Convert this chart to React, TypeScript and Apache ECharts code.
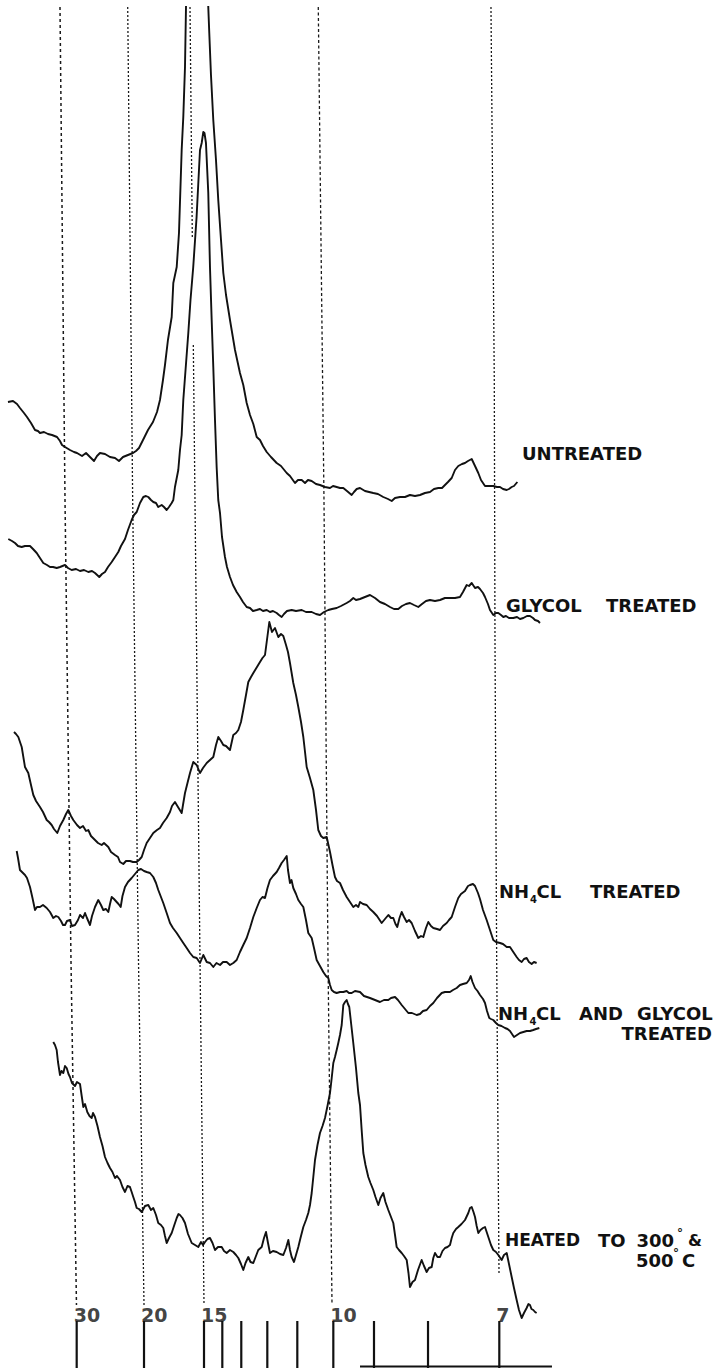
import React, { useEffect, useRef } from "react";
import * as echarts from "echarts";

// X-ray diffraction traces. x: 2θ in degrees, y: intensity (arbitrary units, each trace above its own baseline)
const untreated: number[][] = [
  [1.369, 98], [1.484, 99], [1.576, 96], [1.644, 92], [1.736, 87], [1.805, 83], [1.897, 77], [1.989, 70],
  [2.057, 69], [2.103, 67], [2.195, 68], [2.287, 66], [2.379, 65], [2.494, 63], [2.562, 59], [2.608, 55],
  [2.677, 53], [2.791, 50], [2.883, 48], [2.952, 47], [3.067, 44], [3.159, 47], [3.25, 43], [3.342, 39],
  [3.411, 44], [3.479, 47], [3.594, 46], [3.709, 43], [3.824, 42], [3.915, 39], [4.007, 43], [4.121, 45],
  [4.236, 47], [4.305, 49], [4.374, 52], [4.466, 60], [4.58, 70], [4.695, 78], [4.787, 88], [4.855, 100],
  [4.924, 120], [4.97, 135], [5.038, 160], [5.124, 183], [5.161, 217], [5.239, 233], [5.291, 267],
  [5.353, 350], [5.39, 383], [5.429, 433], [5.452, 493], [5.475, 560], [5.544, 650], [5.681, 760],
  [5.819, 650], [5.933, 560], [5.963, 493], [5.986, 467], [6.025, 425], [6.078, 380], [6.14, 340],
  [6.192, 300], [6.255, 260], [6.308, 227], [6.37, 205], [6.461, 180], [6.576, 150], [6.69, 127],
  [6.766, 115], [6.844, 97], [6.92, 85], [6.996, 76], [7.074, 63], [7.149, 60], [7.218, 54], [7.303, 48],
  [7.401, 43], [7.532, 37], [7.631, 34], [7.762, 27], [7.837, 24], [7.952, 17], [8.021, 20], [8.106, 20],
  [8.182, 17], [8.25, 20], [8.335, 19], [8.434, 16], [8.525, 15], [8.64, 13], [8.755, 12], [8.824, 14],
  [8.908, 13], [8.984, 12], [9.06, 12], [9.144, 9], [9.252, 5], [9.305, 8], [9.367, 11], [9.443, 12],
  [9.557, 9], [9.748, 7], [9.855, 6], [9.977, 3], [10.085, 1], [10.17, -1], [10.246, 2], [10.36, 3],
  [10.475, 3], [10.589, 5], [10.704, 4], [10.819, 5], [10.933, 7], [11.048, 8], [11.14, 11], [11.239, 12],
  [11.324, 12], [11.392, 15], [11.461, 18], [11.546, 22], [11.622, 30], [11.697, 34], [11.782, 36],
  [11.851, 37], [11.92, 39], [12.005, 41], [12.081, 34], [12.156, 27], [12.218, 20], [12.31, 14],
  [12.401, 14], [12.5, 14], [12.585, 13], [12.654, 13], [12.723, 11], [12.808, 10], [12.86, 11],
  [12.922, 13], [12.975, 14], [13.052, 18],
];

const glycolTreated: number[][] = [
  [1.376, 86], [1.461, 84], [1.53, 82], [1.599, 79], [1.683, 78], [1.759, 79], [1.874, 79], [1.943, 76],
  [2.028, 72], [2.103, 67], [2.179, 62], [2.264, 60], [2.333, 58], [2.402, 58], [2.487, 57], [2.562, 58],
  [2.677, 60], [2.745, 57], [2.83, 55], [2.929, 56], [3.021, 54], [3.113, 55], [3.211, 53], [3.296, 54],
  [3.365, 52], [3.463, 48], [3.525, 51], [3.594, 53], [3.663, 58], [3.748, 63], [3.824, 68], [3.899, 73],
  [3.961, 79], [4.053, 86], [4.121, 95], [4.206, 105], [4.259, 110], [4.321, 113], [4.397, 122],
  [4.473, 128], [4.534, 129], [4.587, 128], [4.649, 125], [4.702, 123], [4.764, 122], [4.816, 118],
  [4.894, 120], [4.947, 118], [5.008, 115], [5.062, 118], [5.124, 122], [5.161, 125], [5.199, 138],
  [5.275, 155], [5.314, 175], [5.353, 190], [5.39, 225], [5.505, 292], [5.555, 325], [5.618, 358],
  [5.695, 408], [5.773, 475], [5.812, 482], [5.849, 493], [5.876, 492], [5.91, 482], [5.963, 432],
  [6.002, 358], [6.041, 305], [6.078, 258], [6.117, 205], [6.155, 158], [6.192, 125], [6.232, 112],
  [6.278, 88], [6.346, 68], [6.392, 58], [6.461, 48], [6.53, 40], [6.614, 33], [6.69, 28], [6.759, 23],
  [6.844, 18], [6.92, 17], [6.988, 14], [7.074, 15], [7.149, 16], [7.218, 14], [7.303, 15], [7.378, 13],
  [7.447, 14], [7.532, 12], [7.585, 10], [7.646, 8], [7.699, 11], [7.768, 14], [7.876, 15], [7.975, 14],
  [8.106, 15], [8.204, 13], [8.335, 13], [8.434, 11], [8.525, 10], [8.617, 13], [8.716, 15], [8.801, 16],
  [8.908, 17], [9.007, 19], [9.137, 22], [9.213, 24], [9.289, 27], [9.351, 25], [9.443, 26], [9.557, 28],
  [9.672, 30], [9.787, 27], [9.901, 23], [10.016, 21], [10.131, 18], [10.223, 16], [10.321, 16],
  [10.406, 19], [10.498, 21], [10.589, 22], [10.681, 20], [10.78, 18], [10.865, 21], [10.956, 24],
  [11.048, 25], [11.163, 24], [11.278, 25], [11.392, 27], [11.507, 27], [11.622, 27], [11.736, 28],
  [11.805, 33], [11.89, 40], [11.943, 39], [12.005, 42], [12.081, 37], [12.149, 38], [12.195, 36],
  [12.264, 32], [12.31, 28], [12.378, 21], [12.424, 15], [12.5, 10], [12.562, 12], [12.615, 12],
  [12.677, 10], [12.73, 8], [12.791, 9], [12.86, 7], [12.959, 7], [13.044, 8], [13.113, 6], [13.189, 7],
  [13.273, 9], [13.342, 9], [13.411, 7], [13.457, 5], [13.526, 4], [13.571, 2],
];

const nh4clTreated: number[][] = [
  [1.507, 233], [1.553, 231], [1.606, 228], [1.684, 218], [1.759, 198], [1.835, 192], [1.897, 180],
  [1.95, 170], [2.012, 164], [2.103, 158], [2.172, 153], [2.257, 145], [2.31, 143], [2.371, 140],
  [2.424, 136], [2.5, 132], [2.562, 139], [2.638, 145], [2.7, 151], [2.752, 155], [2.814, 149],
  [2.867, 145], [2.952, 140], [3.021, 137], [3.09, 139], [3.159, 134], [3.211, 135], [3.273, 129],
  [3.365, 125], [3.434, 122], [3.518, 120], [3.571, 122], [3.67, 118], [3.732, 113], [3.824, 110],
  [3.892, 108], [3.938, 103], [4.014, 101], [4.076, 104], [4.167, 104], [4.236, 103], [4.321, 103],
  [4.374, 105], [4.436, 108], [4.489, 115], [4.55, 122], [4.626, 127], [4.702, 132], [4.787, 135],
  [4.855, 137], [4.924, 142], [5.009, 147], [5.085, 153], [5.131, 159], [5.199, 163], [5.268, 158],
  [5.353, 152], [5.383, 160], [5.429, 172], [5.486, 182], [5.544, 192], [5.619, 203], [5.697, 200],
  [5.773, 192], [5.842, 197], [5.927, 202], [6.002, 205], [6.078, 208], [6.14, 220], [6.193, 228],
  [6.255, 224], [6.308, 220], [6.37, 219], [6.461, 215], [6.537, 230], [6.599, 232], [6.652, 235],
  [6.713, 243], [6.766, 255], [6.828, 270], [6.881, 283], [6.943, 288], [6.996, 292], [7.08, 298],
  [7.149, 303], [7.206, 307], [7.264, 310], [7.303, 323], [7.363, 343], [7.424, 333], [7.493, 337],
  [7.569, 328], [7.631, 331], [7.684, 329], [7.746, 320], [7.791, 313], [7.837, 302], [7.913, 282],
  [7.975, 270], [8.028, 258], [8.09, 243], [8.143, 228], [8.182, 213], [8.22, 198], [8.296, 187],
  [8.372, 175], [8.434, 155], [8.486, 135], [8.548, 129], [8.601, 127], [8.679, 128], [8.755, 113],
  [8.812, 100], [8.869, 88], [8.915, 84], [8.984, 82], [9.053, 75], [9.137, 68], [9.213, 63], [9.289, 58],
  [9.351, 60], [9.404, 58], [9.443, 63], [9.512, 61], [9.596, 60], [9.672, 56], [9.748, 53], [9.833, 49],
  [9.94, 42], [10.016, 46], [10.093, 50], [10.154, 47], [10.207, 47], [10.257, 41], [10.298, 38],
  [10.349, 47], [10.399, 53], [10.452, 48], [10.514, 43], [10.567, 45], [10.628, 42], [10.704, 34],
  [10.78, 27], [10.842, 29], [10.895, 28], [10.956, 37], [11.009, 43], [11.071, 39], [11.125, 37],
  [11.209, 36], [11.278, 35], [11.346, 39], [11.431, 42], [11.484, 45], [11.546, 48], [11.622, 58],
  [11.697, 67], [11.759, 71], [11.851, 74], [11.92, 79], [11.966, 80], [12.034, 81], [12.081, 79],
  [12.149, 72], [12.195, 66], [12.264, 55], [12.348, 45], [12.424, 35], [12.5, 25], [12.562, 23],
  [12.654, 22], [12.723, 21], [12.808, 18], [12.883, 18], [12.959, 13], [13.036, 8], [13.089, 5],
  [13.151, 3], [13.204, 6], [13.265, 7], [13.318, 3], [13.38, 1], [13.433, 3], [13.494, 2],
];

const nh4clGlycolTreated: number[][] = [
  [1.569, 189], [1.599, 182], [1.644, 170], [1.69, 168], [1.759, 165], [1.805, 162], [1.874, 153],
  [1.931, 142], [1.989, 130], [2.034, 133], [2.103, 133], [2.172, 135], [2.257, 132], [2.333, 128],
  [2.408, 122], [2.47, 124], [2.523, 123], [2.585, 119], [2.631, 115], [2.677, 115], [2.722, 119],
  [2.791, 120], [2.837, 114], [2.906, 115], [2.975, 120], [3.021, 125], [3.09, 122], [3.136, 127],
  [3.181, 122], [3.25, 115], [3.296, 124], [3.365, 133], [3.44, 140], [3.502, 135], [3.555, 130],
  [3.617, 131], [3.67, 128], [3.709, 136], [3.748, 143], [3.8, 141], [3.862, 138], [3.904, 136],
  [3.954, 133], [3.995, 144], [4.053, 153], [4.121, 158], [4.206, 162], [4.282, 166], [4.358, 170],
  [4.42, 171], [4.489, 169], [4.55, 168], [4.626, 167], [4.702, 163], [4.764, 157], [4.816, 150],
  [4.878, 143], [4.931, 137], [5.009, 127], [5.085, 117], [5.153, 112], [5.239, 107], [5.314, 102],
  [5.39, 97], [5.468, 92], [5.544, 87], [5.619, 83], [5.697, 82], [5.773, 77], [5.849, 85], [5.927, 78],
  [6.002, 77], [6.078, 73], [6.151, 77], [6.232, 75], [6.301, 78], [6.385, 78], [6.461, 75], [6.537, 77],
  [6.614, 80], [6.69, 88], [6.766, 95], [6.844, 102], [6.92, 112], [6.996, 123], [7.074, 132],
  [7.149, 140], [7.206, 143], [7.264, 142], [7.321, 152], [7.378, 160], [7.447, 164], [7.532, 168],
  [7.585, 172], [7.646, 177], [7.699, 180], [7.762, 184], [7.791, 170], [7.837, 157], [7.872, 160],
  [7.913, 152], [7.975, 146], [8.028, 140], [8.09, 136], [8.143, 133], [8.204, 120], [8.257, 107],
  [8.335, 102], [8.388, 92], [8.449, 80], [8.525, 74], [8.601, 68], [8.663, 64], [8.716, 62], [8.755, 55],
  [8.794, 50], [8.846, 48], [8.908, 47], [8.984, 48], [9.06, 48], [9.137, 49], [9.19, 47], [9.252, 47],
  [9.328, 49], [9.443, 48], [9.534, 44], [9.672, 42], [9.787, 40], [9.901, 38], [9.993, 40], [10.092, 40],
  [10.154, 42], [10.246, 43], [10.314, 40], [10.399, 35], [10.475, 31], [10.551, 27], [10.635, 27],
  [10.743, 25], [10.819, 26], [10.888, 29], [10.972, 30], [11.048, 34], [11.124, 37], [11.209, 42],
  [11.317, 47], [11.392, 48], [11.507, 48], [11.576, 50], [11.661, 52], [11.736, 55], [11.805, 56],
  [11.89, 57], [11.943, 60], [11.982, 64], [12.023, 58], [12.081, 52], [12.138, 49], [12.195, 45],
  [12.264, 41], [12.31, 37], [12.356, 29], [12.408, 22], [12.447, 21], [12.5, 20], [12.562, 17],
  [12.615, 15], [12.688, 14], [12.769, 12], [12.826, 11], [12.883, 9], [12.929, 6], [12.975, 3],
  [13.044, 5], [13.113, 7], [13.189, 8], [13.265, 9], [13.342, 9], [13.418, 10], [13.48, 11], [13.556, 12],
];

const heated: number[][] = [
  [2.408, 278], [2.447, 275], [2.486, 270], [2.516, 258], [2.562, 245], [2.596, 249], [2.638, 247],
  [2.677, 254], [2.716, 252], [2.757, 246], [2.791, 243], [2.837, 237], [2.906, 234], [2.952, 238],
  [3.021, 236], [3.06, 224], [3.097, 213], [3.136, 216], [3.188, 208], [3.239, 204], [3.289, 202],
  [3.319, 207], [3.365, 203], [3.422, 194], [3.479, 183], [3.537, 174], [3.594, 163], [3.652, 157],
  [3.709, 152], [3.766, 148], [3.824, 142], [3.869, 144], [3.938, 140], [3.995, 133], [4.053, 128],
  [4.11, 134], [4.167, 133], [4.206, 128], [4.243, 123], [4.282, 118], [4.321, 112], [4.374, 111],
  [4.436, 108], [4.512, 114], [4.587, 115], [4.649, 110], [4.702, 112], [4.764, 105], [4.816, 97],
  [4.878, 95], [4.931, 92], [4.97, 84], [5.009, 77], [5.062, 82], [5.124, 87], [5.177, 94], [5.239, 102],
  [5.28, 106], [5.314, 105], [5.371, 102], [5.429, 97], [5.498, 86], [5.583, 77], [5.659, 75], [5.734, 73],
  [5.796, 78], [5.842, 75], [5.888, 78], [5.945, 81], [6.002, 82], [6.06, 77], [6.117, 70], [6.186, 73],
  [6.271, 73], [6.324, 69], [6.385, 67], [6.461, 70], [6.537, 68], [6.599, 65], [6.652, 62], [6.713, 56],
  [6.766, 50], [6.817, 57], [6.881, 63], [6.931, 58], [6.996, 57], [7.057, 64], [7.11, 70], [7.188, 73],
  [7.241, 82], [7.287, 88], [7.333, 77], [7.378, 67], [7.447, 69], [7.532, 68], [7.608, 66], [7.684, 65],
  [7.746, 72], [7.799, 80], [7.837, 70], [7.876, 63], [7.929, 58], [7.975, 65], [8.028, 73], [8.078, 82],
  [8.143, 93], [8.204, 100], [8.257, 107], [8.296, 115], [8.335, 127], [8.372, 143], [8.411, 160],
  [8.468, 175], [8.525, 187], [8.583, 194], [8.64, 202], [8.697, 214], [8.755, 227], [8.794, 242],
  [8.831, 257], [8.869, 263], [8.908, 270], [8.945, 277], [8.984, 285], [9.023, 295], [9.06, 315],
  [9.099, 318], [9.137, 320], [9.167, 316], [9.197, 313], [9.243, 295], [9.289, 277], [9.351, 252],
  [9.404, 227], [9.443, 215], [9.481, 190], [9.519, 167], [9.569, 155], [9.633, 143], [9.683, 137],
  [9.748, 130], [9.798, 123], [9.863, 115], [9.913, 122], [9.977, 127], [10.027, 118], [10.092, 110],
  [10.154, 103], [10.207, 97], [10.246, 85], [10.284, 73], [10.337, 70], [10.399, 67], [10.452, 64],
  [10.514, 60], [10.555, 47], [10.589, 33], [10.647, 38], [10.704, 40], [10.773, 50], [10.857, 60],
  [10.911, 54], [10.972, 48], [11.025, 52], [11.087, 53], [11.124, 62], [11.163, 67], [11.22, 63],
  [11.278, 63], [11.335, 69], [11.392, 72], [11.45, 73], [11.507, 75], [11.546, 82], [11.583, 87],
  [11.645, 91], [11.697, 93], [11.771, 96], [11.851, 100], [11.927, 107], [11.966, 112], [12.005, 113],
  [12.046, 108], [12.081, 103], [12.119, 94], [12.157, 87], [12.207, 90], [12.264, 92], [12.31, 93],
  [12.386, 83], [12.447, 75], [12.5, 70], [12.562, 68], [12.615, 65], [12.692, 60], [12.745, 65],
  [12.808, 67], [12.86, 56], [12.922, 43], [12.975, 32], [13.036, 20], [13.089, 10], [13.151, 2],
  [13.204, 7], [13.265, 12], [13.307, 16], [13.342, 15], [13.376, 11], [13.418, 10], [13.457, 8],
  [13.494, 7],
];

const traceNames = ["Untreated", "Glycol treated", "NH4Cl treated", "NH4Cl and glycol treated", "Heated to 300° & 500°C"];
const traceBaselines = [868, 743, 403, 328, 48];

// d-spacing scale (Å) printed under the traces, and its 2θ positions
const tickD = [30, 20, 15, 14, 13, 12, 11, 10, 9, 8, 7];
const tickTwoTheta = [2.945, 4.489, 5.865, 6.285, 6.72, 7.317, 8.005, 8.831, 9.764, 11.003, 12.638];
const tickLabelD = [30, 20, 15, 10, 7];

// dotted guide lines drawn through the traces at 30, 20, 15, 10 and 7 Å (slightly slanted on the chart)
const guideLines: number[][][] = [
  [[2.562, 1361], [2.677, 868], [2.814, 408], [2.94, 63]],
  [[4.115, 1361], [4.229, 868], [4.362, 408], [4.489, 63]],
  [[5.544, 1361], [5.597, 1130]],
  [[5.62, 1023], [5.658, 868], [5.773, 408], [5.865, 63]],
  [[8.486, 1361], [8.617, 868], [8.709, 408], [8.801, 63]],
  [[12.447, 1361], [12.523, 988], [12.539, 728], [12.578, 408], [12.631, 95]],
];
const guideDash: number[][] = [[3, 3], [2, 2], [2, 2], [2, 2], [3, 2.5], [2, 2]];
const guideWidth = [1.5, 1.3, 1.3, 1.3, 1.3, 1.3];

const scaleBar = [[9.443, 1.5], [13.846, 1.5]];

const X_MIN = 1.186;
const X_MAX = 17.677;
const Y_MAX = 1361;
const INK = "#111111";
const FONT = '"DejaVu Sans", sans-serif';

function label(text: string, x: number, y: number, size = 18, align = "left") {
  return {
    type: "text",
    x,
    y,
    silent: true,
    z: 20,
    style: { text, fill: INK, fontSize: size, fontWeight: "bold", fontFamily: FONT, align, verticalAlign: "middle" },
  };
}

export default function App() {
  const ref = useRef<HTMLDivElement>(null);

  useEffect(() => {
    document.body.style.margin = "0";
    if (!ref.current) return;
    const chart = echarts.init(ref.current, undefined, { renderer: "svg" });

    const traces = [untreated, glycolTreated, nh4clTreated, nh4clGlycolTreated, heated];
    const traceSeries = traces.map((t, i) => ({
      type: "line",
      name: traceNames[i],
      data: t.map(([x, y]) => [x, y + traceBaselines[i]]),
      symbol: "none",
      lineStyle: { color: INK, width: 1.9, join: "round" },
      z: 5,
      silent: true,
      clip: true,
    }));

    const guideSeries = guideLines.map((g, i) => ({
      type: "line",
      data: g,
      symbol: "none",
      lineStyle: { color: "#1a1a1a", width: guideWidth[i], type: guideDash[i] },
      z: 3,
      silent: true,
    }));

    const tickSeries = tickTwoTheta.map((x) => ({
      type: "line",
      data: [[x, 0], [x, 47]],
      symbol: "none",
      lineStyle: { color: INK, width: 2.2 },
      z: 4,
      silent: true,
    }));

    const tickLabelSeries = {
      type: "scatter",
      symbolSize: 0,
      silent: true,
      z: 6,
      data: tickLabelD.map((d) => ({ name: String(d), value: [tickTwoTheta[tickD.indexOf(d)], 53.5] })),
      label: {
        show: true,
        position: "right",
        distance: 0,
        offset: [-3, 0],
        formatter: (p: any) => p.name,
        color: INK,
        fontSize: 19,
        fontWeight: "bold",
        fontFamily: FONT,
      },
    };

    const barSeries = {
      type: "line",
      data: scaleBar,
      symbol: "none",
      lineStyle: { color: INK, width: 2 },
      silent: true,
      z: 4,
    };

    chart.setOption({
      animation: false,
      backgroundColor: "#ffffff",
      grid: { left: 0, right: 0, top: 7, bottom: 0 },
      xAxis: { type: "value", min: X_MIN, max: X_MAX, show: false },
      yAxis: { type: "value", min: 0, max: Y_MAX, show: false },
      series: [...guideSeries, ...tickSeries, barSeries, tickLabelSeries, ...traceSeries],
      graphic: [
        label("UNTREATED", 522, 453),
        label("GLYCOL", 506, 605),
        label("TREATED", 606, 605),
        label("NH", 499, 891),
        label("4", 530, 899, 10),
        label("CL", 536.5, 891),
        label("TREATED", 590, 891),
        label("NH", 498, 1013.5),
        label("4", 529.5, 1021.5, 10),
        label("CL", 536, 1013.5),
        label("AND", 579, 1013.5),
        label("GLYCOL", 637, 1013.5),
        label("TREATED", 712, 1033.5, 18, "right"),
        label("HEATED", 505, 1240, 17),
        label("TO", 598, 1240),
        label("300", 636.5, 1240),
        label("°", 677, 1233, 12),
        label("&", 688, 1240, 16),
        label("500", 636, 1260),
        label("°", 673, 1253, 12),
        label("C", 682, 1260),
      ],
    });

    return () => chart.dispose();
  }, []);

  return <div ref={ref} style={{ width: 719, height: 1368 }} />;
}
